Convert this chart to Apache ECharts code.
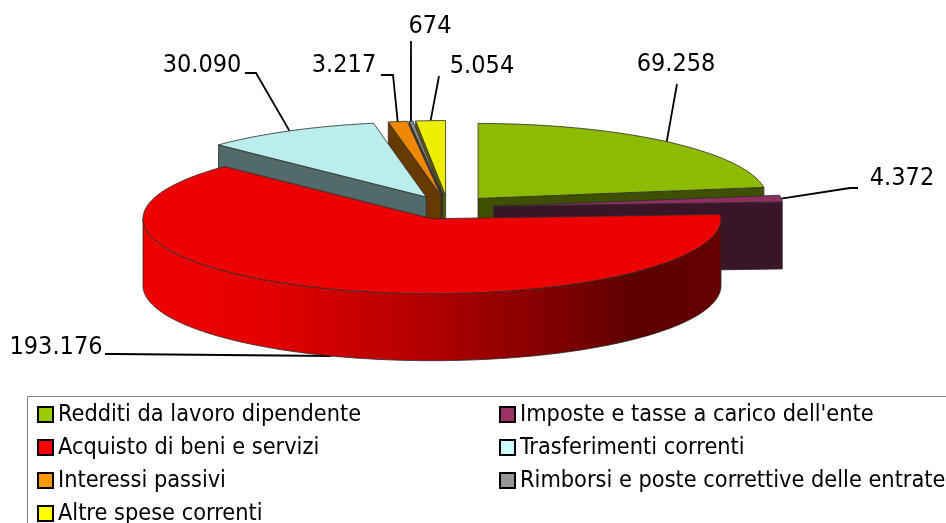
<!DOCTYPE html>
<html><head><meta charset="utf-8">
<style>html,body{margin:0;padding:0;background:#fff}#c{width:946px;height:523px}</style>
<script src="https://cdn.jsdelivr.net/npm/echarts@6/dist/echarts.min.js"></script>
</head><body><div id="c"></div>
<script>
const categories = ['Redditi da lavoro dipendente','Imposte e tasse a carico dell\'ente','Acquisto di beni e servizi','Trasferimenti correnti','Interessi passivi','Rimborsi e poste correttive delle entrate','Altre spese correnti'];
const values = [69258,4372,193176,30090,3217,674,5054];
const valueLabels = ['69.258','4.372','193.176','30.090','3.217','674','5.054'];
const topColors = ['#8DBB00','#8E2F5F','#EE0000','#BBEDED','#EE8800','#888888','#EEEE00'];
const sideColors = ['#3F5100','#3A1528','#600000','#536A6A','#663A00','#3A3A3A','#5F5F00'];
const legendColors = ['#99CC00','#993366','#FF0000','#CCFFFF','#FF9900','#969696','#FFFF00'];
const paintOrder = [6,5,4,3,0,1,2];
const legendSlots = [[37,403],[499,403],[37,436],[499,436],[37,469],[499,469],[37,502]];

const G = {cx:448, cy:207.5, R:289, r:75, explode:46, depth:67};
const leaders = [
  {pts:[[677,84]], text:[676,64], depthAnchor:false},
  {pts:[[850,188],[858,188]], text:[902,178], depthAnchor:false},
  {pts:[[115,354],[105,354]], text:[56,347], depthAnchor:true},
  {pts:[[256,73],[245,73]], text:[202,65], depthAnchor:false},
  {pts:[[393,75],[381,75]], text:[344,65], depthAnchor:false},
  {pts:[[411,41]], text:[430,26], depthAnchor:false},
  {pts:[[439,76]], text:[482,66], depthAnchor:false}
];
const FONT = '"DejaVu Sans Condensed","DejaVu Sans",sans-serif';
const total = values.reduce((a,b)=>a+b,0);
const rad = d => d*Math.PI/180;
const starts = []; values.reduce((a,v,i)=>{starts[i]=a;return a+v/total*360;},0);

function sliceGeom(i){
  const a0 = starts[i], a1 = a0 + values[i]/total*360, mid=(a0+a1)/2;
  const ax = G.cx + G.explode*Math.sin(rad(mid));
  const ay = G.cy - G.explode*(G.r/G.R)*Math.cos(rad(mid));
  const pt = (a,d=0)=>[ax+G.R*Math.sin(rad(a)), ay-G.r*Math.cos(rad(a))+d];
  return {a0,a1,mid,ax,ay,pt};
}
function arcPts(g,a,b,d=0){
  const n=Math.max(2,Math.ceil((b-a)/1.5)), out=[];
  for(let k=0;k<=n;k++) out.push(g.pt(a+(b-a)*k/n,d));
  return out;
}
const edge = {stroke:'#2b2b2b', lineWidth:0.8};
function renderSlice(i){
  const g=sliceGeom(i), kids=[], d=G.depth, apex=[g.ax,g.ay], apexLow=[g.ax,g.ay+d];
  const L=leaders[i];
  kids.push({type:'polyline',shape:{points:[g.pt(g.mid,L.depthAnchor?d:0)].concat(L.pts)},style:{fill:null,stroke:'#000',lineWidth:1.8}});
  const cut=a=>({type:'polygon',shape:{points:[apex,g.pt(a),g.pt(a,d),apexLow]},style:{fill:sideColors[i],...edge}});
  if(Math.sin(rad(g.a0))<0) kids.push(cut(g.a0));
  if(Math.sin(rad(g.a1))>0) kids.push(cut(g.a1));
  const w0=Math.max(g.a0,90), w1=Math.min(g.a1,270);
  if(w1>w0){
    kids.push({type:'polygon',shape:{points:arcPts(g,w0,w1).concat(arcPts(g,w0,w1,d).reverse())},
      style:{fill:{type:'linear',x:0,y:0,x2:1,y2:0,colorStops:[
        {offset:0,color:'#EE0000'},{offset:0.2,color:'#E60000'},{offset:0.5,color:'#B00000'},{offset:0.75,color:'#760000'},{offset:0.85,color:'#5C0000'},{offset:1,color:'#660000'}]},...edge}});
  }
  kids.push({type:'polygon',shape:{points:[apex].concat(arcPts(g,g.a0,g.a1))},style:{fill:topColors[i],...edge}});
  kids.push({type:'text',style:{x:L.text[0],y:L.text[1],text:valueLabels[i],font:'25px '+FONT,fill:'#000',textAlign:'center',textVerticalAlign:'middle'}});
  return {type:'group',children:kids};
}
const series = paintOrder.map((i,z)=>({
  type:'custom',name:categories[i],coordinateSystem:'none',silent:true,z:2+z,
  data:[[values[i]]],itemStyle:{color:legendColors[i]},
  renderItem:()=>renderSlice(i)
}));
const chart = echarts.init(document.getElementById('c'),null,{renderer:'canvas',width:946,height:523});
chart.setOption({
  animation:false,backgroundColor:'#fff',
  graphic:[{type:'rect',z:0,shape:{x:27.5,y:396.5,width:1000,height:300},style:{fill:'#fff',stroke:'#808080',lineWidth:1}}],
  legend:categories.map((name,i)=>({
    orient:'vertical',icon:'rect',itemWidth:15,itemHeight:15,padding:0,selectedMode:false,
    left:legendSlots[i][0],top:legendSlots[i][1],data:[name],
    textStyle:{fontFamily:FONT,fontSize:23.3,color:'#000',padding:[0,0,0,0],lineHeight:15},
    itemStyle:{borderColor:'#000',borderWidth:2}
  })),
  series
});
</script></body></html>
